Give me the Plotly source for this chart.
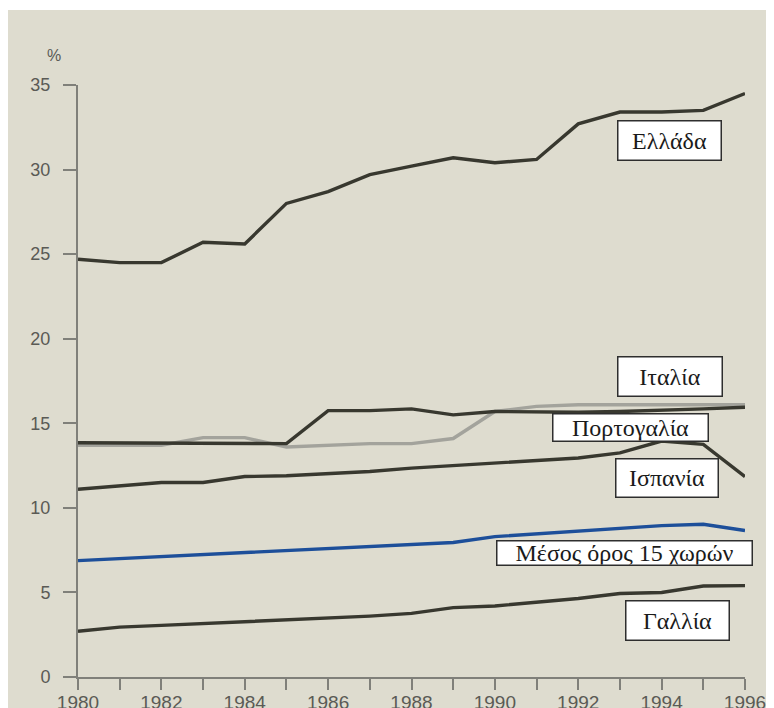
import plotly.graph_objects as go

years = list(range(1980, 1997))
greece = [24.7, 24.5, 24.5, 25.7, 25.6, 28.0, 28.7, 29.7, 30.2, 30.7, 30.4, 30.6, 32.7, 33.4, 33.4, 33.5, 34.5]
italy = [13.85, 13.85, 13.85, 13.8, 13.8, 13.8, 15.75, 15.75, 15.85, 15.5, 15.7, 15.65, 15.65, 15.7, 15.75, 15.85, 15.95]
portugal = [13.7, 13.7, 13.7, 14.15, 14.15, 13.6, 13.7, 13.8, 13.8, 14.1, 15.7, 16.0, 16.1, 16.1, 16.1, 16.1, 16.1]
spain = [11.1, 11.3, 11.5, 11.5, 11.85, 11.9, 12.0, 12.15, 12.35, 12.5, 12.65, 12.8, 12.95, 13.25, 13.95, 13.75, 11.85]
average = [6.88, 7.0, 7.15, 7.25, 7.37, 7.5, 7.6, 7.75, 7.87, 7.95, 8.3, 8.45, 8.6, 8.8, 8.95, 9.03, 8.66]
france = [2.7, 2.95, 3.05, 3.15, 3.3, 3.38, 3.46, 3.6, 3.76, 4.1, 4.2, 4.4, 4.64, 4.94, 5.0, 5.38, 5.4]

x_tick_vals = list(range(1980, 1997))
x_tick_text = [str(y) if y % 2 == 0 else "" for y in x_tick_vals]
y_tick_vals = [0, 5, 10, 15, 20, 25, 30, 35]

labels = ["Ελλάδα", "Ιταλία", "Πορτογαλία", "Ισπανία", "Μέσος όρος 15 χωρών", "Γαλλία"]
label_x = [1994.2, 1994.2, 1993.25, 1994.12, 1993.1, 1994.38]
label_y = [31.69, 17.77, 14.78, 11.77, 7.36, 3.34]
label_w = [102, 103, 154, 101, 254, 102]
label_h = [38, 38, 26, 37, 23, 38]

DARK = "#38382f"
BG = "#dedccf"

fig = go.Figure()
fig.add_trace(go.Scatter(x=years, y=portugal, mode="lines", line=dict(color="#a3a39c", width=3.4), name="Πορτογαλία"))
fig.add_trace(go.Scatter(x=years, y=italy, mode="lines", line=dict(color=DARK, width=3.4), name="Ιταλία"))
fig.add_trace(go.Scatter(x=years, y=greece, mode="lines", line=dict(color=DARK, width=3.4), name="Ελλάδα"))
fig.add_trace(go.Scatter(x=years, y=spain, mode="lines", line=dict(color=DARK, width=3.4), name="Ισπανία"))
fig.add_trace(go.Scatter(x=years, y=average, mode="lines", line=dict(color="#1d4f9a", width=3.4), name="Μέσος όρος 15 χωρών"))
fig.add_trace(go.Scatter(x=years, y=france, mode="lines", line=dict(color=DARK, width=3.4), name="Γαλλία"))

for t, xx, yy, w, h in zip(labels, label_x, label_y, label_w, label_h):
    fig.add_annotation(x=xx, y=yy, xref="x", yref="y", text=t, showarrow=False,
                       font=dict(family="Liberation Serif", size=24, color="#1a1a1a"),
                       bgcolor="white", bordercolor="#2e2e2e", borderwidth=1.5, borderpad=0,
                       width=w, height=h, align="center", valign="middle")

fig.add_annotation(x=-0.0495, y=1.0676, xref="paper", yref="paper", text="%", showarrow=False,
                   font=dict(family="Liberation Sans", size=16, color="#5a5a55"))

fig.add_shape(type="rect", xref="paper", yref="paper", x0=-0.2, x1=1.2, y0=-0.2, y1=1.1267,
              fillcolor=BG, line=dict(width=0), layer="below")

axis_col = "#80807a"
fig.update_xaxes(range=[1980, 1996], tickvals=x_tick_vals, ticktext=x_tick_text, automargin=False,
                 showgrid=False, zeroline=False, showline=True, linecolor=axis_col, linewidth=2,
                 ticks="outside", ticklen=11, tickwidth=2, tickcolor=axis_col, ticklabelstandoff=-4,
                 tickfont=dict(family="Liberation Sans", size=19, color="#5a5a55"))
fig.update_yaxes(range=[0, 35], tickvals=y_tick_vals, automargin=False,
                 showgrid=False, zeroline=False, showline=True, linecolor=axis_col, linewidth=2,
                 ticks="outside", ticklen=13, tickwidth=2, tickcolor=axis_col, ticklabelstandoff=9,
                 tickfont=dict(family="Liberation Sans", size=18, color="#5a5a55"))

fig.update_layout(width=766, height=700, margin=dict(l=70, r=29, t=77, b=31, pad=0, autoexpand=False),
                  paper_bgcolor="white", plot_bgcolor="rgba(0,0,0,0)", showlegend=False)

fig.write_html("out.html")
